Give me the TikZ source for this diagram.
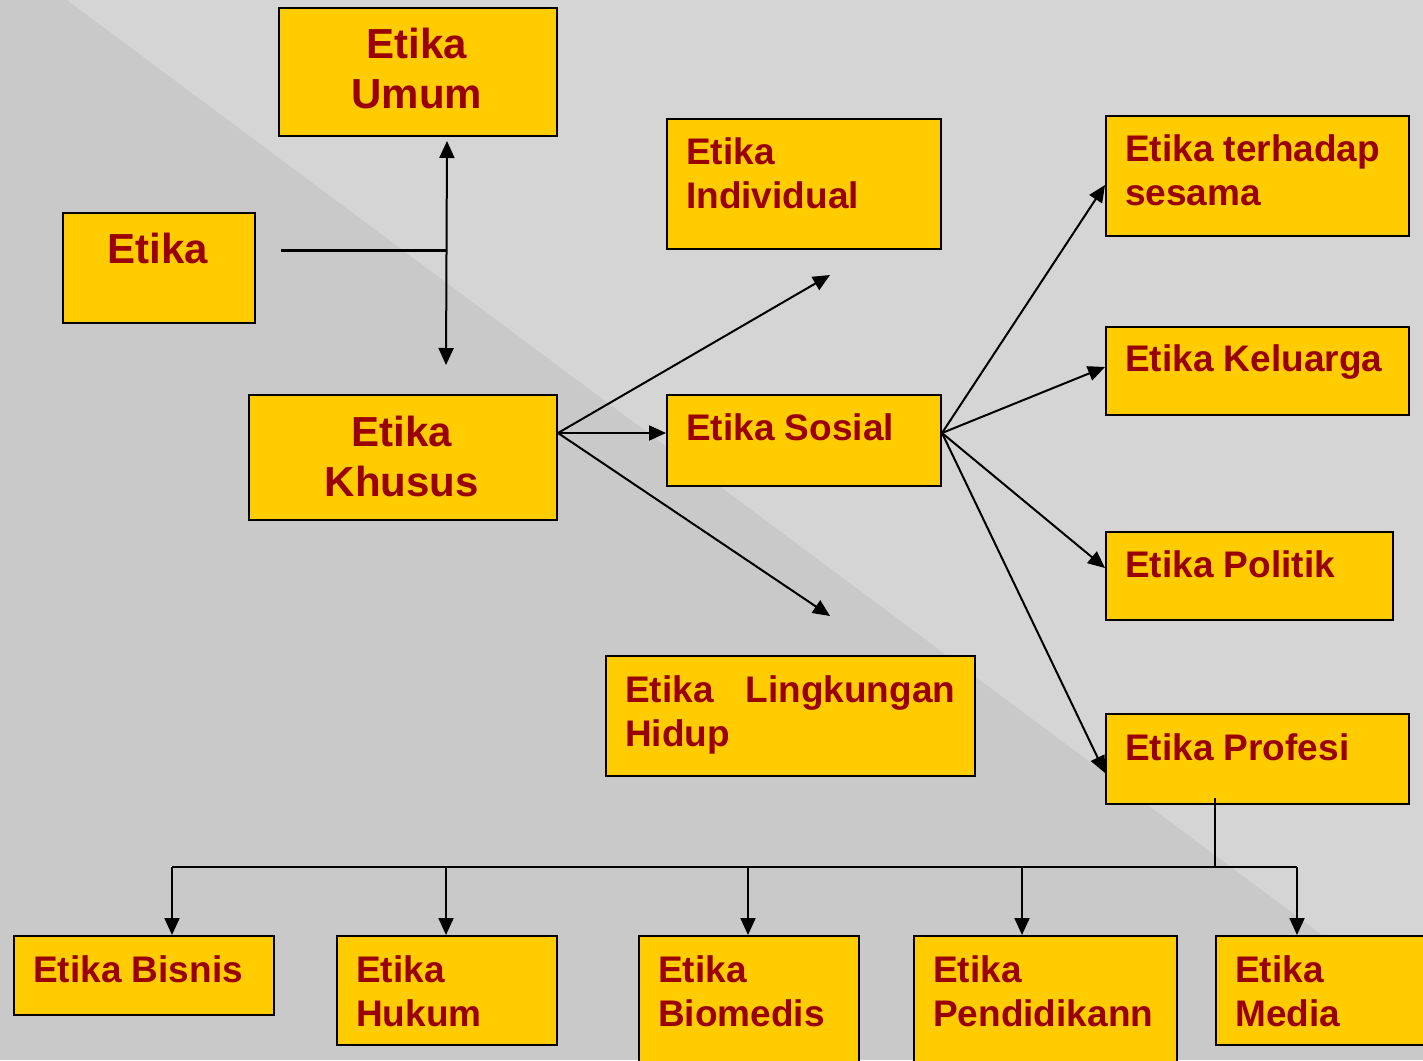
\documentclass[tikz,border=0pt]{standalone}
\usepackage{fontspec}
\setmainfont{Liberation Sans}
\usetikzlibrary{arrows.meta,calc}
\definecolor{bgdark}{HTML}{C9C9C9}
\definecolor{bglight}{HTML}{D5D5D5}
\definecolor{boxyellow}{HTML}{FFCC00}
\definecolor{textred}{HTML}{990000}
\newcommand\twol[2]{\vtop{\hbox{#1}\hbox{#2}}}
\newcommand\twoc[2]{\vtop{\halign{\hfil##\hfil\cr#1\cr#2\cr}}}
\begin{document}
\begin{tikzpicture}[x=1pt,y=-1pt,
  box/.style={draw=black,line width=2pt,fill=boxyellow,rectangle,inner sep=0pt,anchor=north west},
  lbl/.style={text=textred,inner sep=0pt,anchor=base west,font=\fontsize{37}{44}\selectfont\bfseries},
  biglbl/.style={text=textred,inner sep=0pt,anchor=base,font=\fontsize{42}{50}\selectfont\bfseries},
  conn/.style={draw=black,line width=2pt},
  arr/.style={conn,-{Triangle[length=17pt,width=15pt]}},
  dblarr/.style={conn,{Triangle[length=17pt,width=15pt]}-{Triangle[length=17pt,width=15pt]}},
]
\clip (0,0) rectangle (1423,1060);
% background
\fill[bgdark] (0,0) rectangle (1423,1060);
\fill[bglight] (67,0) -- (1423,0) -- (1423,1010) -- cycle;

% boxes
\node[box,minimum width=192pt,minimum height=110pt] (etika) at (62,212) {};
\node[box,minimum width=278pt,minimum height=128pt] (umum) at (278,7) {};
\node[box,minimum width=308pt,minimum height=125pt] (khusus) at (248,394) {};
\node[box,minimum width=274pt,minimum height=130pt] (ind) at (666,118) {};
\node[box,minimum width=274pt,minimum height=91pt] (sos) at (666,394) {};
\node[box,minimum width=369pt,minimum height=120pt] (ling) at (605,655) {};
\node[box,minimum width=303pt,minimum height=120pt] (ter) at (1105,115) {};
\node[box,minimum width=303pt,minimum height=88pt] (kel) at (1105,326) {};
\node[box,minimum width=287pt,minimum height=88pt] (pol) at (1105,531) {};
\node[box,minimum width=303pt,minimum height=90pt] (pro) at (1105,713) {};
\node[box,minimum width=260pt,minimum height=79pt] (bis) at (13,935) {};
\node[box,minimum width=220pt,minimum height=109pt] (huk) at (336,935) {};
\node[box,minimum width=220pt,minimum height=140pt] (bio) at (638,935) {};
\node[box,minimum width=263pt,minimum height=140pt] (pen) at (913,935) {};
\node[box,minimum width=230pt,minimum height=109pt] (med) at (1215,935) {};

% labels
\node[biglbl] (etika-t) at (158,263) {Etika};
\node[biglbl] (umum-t) at (417,58) {\twoc{Etika}{Umum}};
\node[biglbl] (khusus-t) at (402,446) {\twoc{Etika}{Khusus}};
\node[lbl] (ind-t) at ($(ind.north west)+(20,46)$) {\twol{Etika}{Individual}};
\node[lbl] (sos-t) at ($(sos.north west)+(20,46)$) {Etika Sosial};
\node[lbl] (ling-t) at ($(ling.north west)+(20,47)$) {\vtop{\hbox to 330pt{Etika\hfil Lingkungan}\hbox{Hidup}}};
\node[lbl] (ter-t) at ($(ter.north west)+(20,46)$) {\twol{Etika terhadap}{sesama}};
\node[lbl] (kel-t) at ($(kel.north west)+(20,45)$) {Etika Keluarga};
\node[lbl] (pol-t) at ($(pol.north west)+(20,46)$) {Etika Politik};
\node[lbl] (pro-t) at ($(pro.north west)+(20,47)$) {Etika Profesi};
\node[lbl] (bis-t) at ($(bis.north west)+(20,47)$) {Etika Bisnis};
\node[lbl] (huk-t) at ($(huk.north west)+(20,47)$) {\twol{Etika}{Hukum}};
\node[lbl] (bio-t) at ($(bio.north west)+(20,47)$) {\twol{Etika}{Biomedis}};
\node[lbl] (pen-t) at ($(pen.north west)+(20,47)$) {\twol{Etika}{Pendidikann}};
\node[lbl] (med-t) at ($(med.north west)+(20,47)$) {\twol{Etika}{Media}};

% coordinates
\coordinate (ej) at (281,250);
\coordinate (jn) at (446,250);
\coordinate (up) at ($(umum.south)+(29,4)$);
\coordinate (dn) at (446,365);
\coordinate (kout) at ($(khusus.north east)+(0,39)$);
\coordinate (kup) at (830,275);
\coordinate (kdn) at (830,616);
\coordinate (sout) at ($(sos.north east)+(0,39)$);
\coordinate (pdown) at (1215,798);
\coordinate (bus) at (1215,867);
\coordinate (b1) at (172,867);
\coordinate (b2) at (446,867);
\coordinate (b3) at (748,867);
\coordinate (b4) at (1022,867);
\coordinate (b5) at (1297,867);

% connectors
\draw[conn,line width=3pt] (ej) -- (jn);
\draw[dblarr] (up) -- (dn);
\draw[arr] (kout) -- (kup);
\draw[arr] (kout) -- (kout -| sos.west);
\draw[arr] (kout) -- (kdn);
\draw[arr] (sout) -- ($(ter.north west)+(0,70)$);
\draw[arr] (sout) -- ($(kel.north west)+(0,41)$);
\draw[arr] (sout) -- ($(pol.north west)+(0,37)$);
\draw[arr] (sout) -- ($(pro.north west)+(0,60)$);
\draw[conn] (pdown) -- (bus);
\draw[conn] (b1) -- (b5);
\draw[arr] (b1) -- (b1 |- bis.north);
\draw[arr] (b2) -- (b2 |- huk.north);
\draw[arr] (b3) -- (b3 |- bio.north);
\draw[arr] (b4) -- (b4 |- pen.north);
\draw[arr] (b5) -- (b5 |- med.north);
\end{tikzpicture}
\end{document}
